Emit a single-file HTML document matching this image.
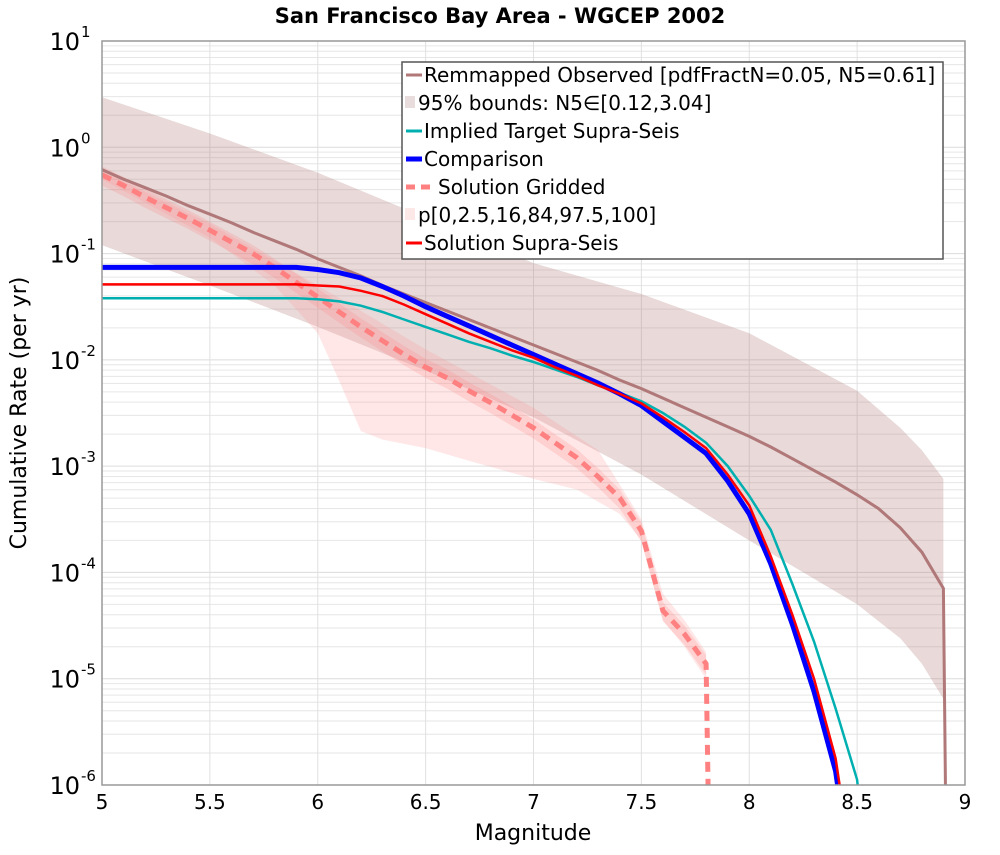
<!DOCTYPE html>
<html><head><meta charset="utf-8"><style>
body{margin:0;background:#fff;font-family:"Liberation Sans","DejaVu Sans",sans-serif}
svg text{font-family:"DejaVu Sans","Liberation Sans",sans-serif}
</style></head><body>
<svg id="chart" width="1000" height="850" xmlns="http://www.w3.org/2000/svg">
<defs><clipPath id="plotclip"><rect x="102" y="41" width="863" height="744"/></clipPath></defs>
<text x="500" y="23" text-anchor="middle" font-size="21" font-weight="bold">San Francisco Bay Area - WGCEP 2002</text>
<g id="grid"></g>
<g id="marks" clip-path="url(#plotclip)"></g>
<rect x="102" y="41" width="863" height="744" fill="none" stroke="#999" stroke-width="1.5"/>
<g id="ticks"></g>
<text x="533" y="840" text-anchor="middle" font-size="22">Magnitude</text>
<text transform="translate(26,413) rotate(-90)" text-anchor="middle" font-size="22">Cumulative Rate (per yr)</text>
<g>
<rect x="402" y="62" width="541" height="197" fill="#fff" stroke="#555" stroke-width="1.5"/>
<line x1="406" y1="75" x2="422" y2="75" stroke="#b07878" stroke-width="3"/>
<text x="424" y="82" font-size="20">Remmapped Observed [pdfFractN=0.05, N5=0.61]</text>
<rect x="405" y="96" width="10" height="12" fill="#e8dcdc"/>
<text x="418" y="110" font-size="20">95% bounds: N5∈[0.12,3.04]</text>
<line x1="406" y1="131" x2="422" y2="131" stroke="#00b0b0" stroke-width="3"/>
<text x="424" y="138" font-size="20">Implied Target Supra-Seis</text>
<line x1="406" y1="159" x2="422" y2="159" stroke="#0000ff" stroke-width="5"/>
<text x="424" y="166" font-size="20">Comparison</text>
<line x1="406" y1="187" x2="436" y2="187" stroke="#ff8080" stroke-width="5" stroke-dasharray="9,6"/>
<text x="438" y="194" font-size="20">Solution Gridded</text>
<rect x="405" y="208" width="10" height="12" fill="#fde8e8"/>
<text x="418" y="222" font-size="20">p[0,2.5,16,84,97.5,100]</text>
<line x1="406" y1="243" x2="422" y2="243" stroke="#ff0000" stroke-width="3"/>
<text x="424" y="250" font-size="20">Solution Supra-Seis</text>
</g>
</svg>
<script>
const obsM=[5,5.1,5.2,5.3,5.4,5.5,5.6,5.7,5.8,5.9,6,6.1,6.2,6.3,6.4,6.5,6.6,6.7,6.8,6.9,7,7.1,7.2,7.3,7.4,7.5,7.6,7.7,7.8,7.9,8,8.1,8.2,8.3,8.4,8.5,8.6,8.7,8.8,8.9,8.91];
const obsLog=[-0.21,-0.30,-0.38,-0.46,-0.55,-0.63,-0.71,-0.80,-0.88,-0.96,-1.05,-1.13,-1.21,-1.30,-1.38,-1.46,-1.54,-1.62,-1.70,-1.78,-1.86,-1.94,-2.02,-2.10,-2.19,-2.27,-2.36,-2.45,-2.54,-2.63,-2.72,-2.82,-2.93,-3.04,-3.15,-3.27,-3.40,-3.58,-3.81,-4.15,-6.2];
const bandM=[5,5.5,6,6.5,7,7.5,8,8.5,8.7,8.8,8.9];
const bandUpper=[0.47,0.13,-0.24,-0.66,-1.09,-1.38,-1.75,-2.29,-2.64,-2.85,-3.12];
const bandLower=[-0.92,-1.30,-1.69,-2.10,-2.54,-3.08,-3.70,-4.30,-4.62,-4.86,-5.19];
const supM=[5,5.9,6,6.1,6.2,6.3,6.4,6.5,6.6,6.7,6.8,6.9,7,7.1,7.2,7.3,7.4,7.5,7.6,7.7,7.8,7.9,8,8.1,8.2,8.3,8.4];
const compLog=[-1.13,-1.13,-1.15,-1.18,-1.23,-1.31,-1.40,-1.50,-1.59,-1.68,-1.77,-1.86,-1.95,-2.04,-2.13,-2.22,-2.32,-2.43,-2.58,-2.73,-2.88,-3.14,-3.45,-3.92,-4.49,-5.12,-5.87];
const supraLog=[-1.29,-1.29,-1.30,-1.31,-1.35,-1.40,-1.48,-1.57,-1.66,-1.75,-1.83,-1.91,-1.98,-2.07,-2.15,-2.24,-2.32,-2.41,-2.54,-2.68,-2.83,-3.08,-3.37,-3.85,-4.40,-5.00,-5.75];
const targM=[5,5.9,6,6.1,6.2,6.3,6.4,6.5,6.6,6.7,6.8,6.9,7,7.1,7.2,7.3,7.4,7.5,7.6,7.7,7.8,7.9,8,8.1,8.2,8.3,8.4,8.5];
const targLog=[-1.42,-1.42,-1.43,-1.45,-1.49,-1.55,-1.62,-1.69,-1.76,-1.83,-1.89,-1.96,-2.02,-2.09,-2.16,-2.24,-2.31,-2.39,-2.50,-2.63,-2.78,-3.00,-3.28,-3.60,-4.11,-4.65,-5.28,-5.95];
const gridM=[5,5.1,5.2,5.3,5.4,5.5,5.6,5.7,5.8,5.9,6,6.1,6.2,6.3,6.4,6.5,6.6,6.7,6.8,6.9,7,7.1,7.2,7.3,7.4,7.5,7.6,7.7,7.8];
const gridLog=[-0.26,-0.36,-0.47,-0.57,-0.67,-0.78,-0.89,-1.00,-1.13,-1.27,-1.41,-1.55,-1.69,-1.82,-1.95,-2.07,-2.17,-2.29,-2.40,-2.52,-2.64,-2.78,-2.92,-3.10,-3.30,-3.61,-4.36,-4.58,-4.86];
const gridMinM=[5,5.5,5.8,6,6.1,6.2,6.3,6.5,6.7,7,7.2,7.4,7.5,7.6,7.7,7.8];
const gridMinLog=[-0.30,-0.85,-1.30,-1.75,-2.2,-2.67,-2.75,-2.83,-2.95,-3.12,-3.22,-3.45,-3.7,-4.45,-4.7,-5.0];
const gridMaxM=[5,5.5,6,6.5,7,7.3,7.5,7.6,7.7,7.8];
const gridMaxLog=[-0.22,-0.72,-1.30,-1.90,-2.45,-2.85,-3.5,-4.2,-4.45,-4.75];
const xTicks=[5,5.5,6,6.5,7,7.5,8,8.5,9];
const yTicks=[1,0,-1,-2,-3,-4,-5,-6];

const NS='http://www.w3.org/2000/svg';
const X0=102,X1=965,Y0=41,Y1=785;
function sx(m){return X0+(m-5)/4*(X1-X0);}
function sy(l){return Y0+(1-l)/7*(Y1-Y0);}
function mk(tag,attrs,parent){const e=document.createElementNS(NS,tag);for(const k in attrs)e.setAttribute(k,attrs[k]);parent.appendChild(e);return e;}
const grid=document.getElementById('grid'),marks=document.getElementById('marks'),ticks=document.getElementById('ticks');
function clampL(l){return Math.max(l,-6.15);}
function pts(ms,ls){return ms.map((m,i)=>sx(m).toFixed(1)+','+sy(clampL(ls[i])).toFixed(1)).join(' ');}
function band(m1,u,m2,lo){return pts(m1,u)+' '+pts(m2.slice().reverse(),lo.slice().reverse());}

for(let d=-6;d<1;d++){for(let k=2;k<10;k++){const l=d+Math.log10(k);
 const g=mk('line',{x1:X0,x2:X1,y1:sy(l),y2:sy(l),stroke:'#e6e6e6','stroke-width':1},grid);
 
 }}
yTicks.forEach(t=>{const g=mk('line',{x1:X0,x2:X1,y1:sy(t),y2:sy(t),stroke:'#dcdcdc','stroke-width':1},grid);
 
 
 const tx=mk('text',{x:80,y:sy(t)+9,'text-anchor':'end','font-size':24},ticks);
 
 
 tx.textContent='10';
 const sp=mk('text',{x:81,y:sy(t)-4,'font-size':15},ticks);
 
 
 sp.textContent=(t<0?'-':'')+Math.abs(t);});
xTicks.forEach(t=>{const g=mk('line',{x1:sx(t),x2:sx(t),y1:Y0,y2:Y1,stroke:'#e0e0e0','stroke-width':1},grid);
 
 
 const tx=mk('text',{x:sx(t),y:809,'text-anchor':'middle','font-size':20},ticks);
 
 
 tx.textContent=String(t);});

let e;
e=mk('polygon',{points:band(bandM,bandUpper,bandM,bandLower),fill:'#b07878','fill-opacity':0.28},marks);


e=mk('polygon',{points:band(gridMaxM,gridMaxLog,gridMinM,gridMinLog),fill:'#ff9090','fill-opacity':0.22},marks);


const innerU=gridLog.map(v=>v+0.08),innerL=gridLog.map(v=>v-0.1);
e=mk('polygon',{points:band(gridM,innerU,gridM,innerL),fill:'#ff8080','fill-opacity':0.22},marks);


e=mk('polyline',{points:pts(obsM,obsLog),fill:'none',stroke:'#b07878','stroke-width':3},marks);


e=mk('polyline',{points:pts(gridM.concat([7.81]),gridLog.concat([-6.2])),fill:'none',stroke:'#ff8080','stroke-width':5,'stroke-dasharray':'10,7'},marks);


e=mk('polyline',{points:pts(targM.concat([8.51]),targLog.concat([-6.2])),fill:'none',stroke:'#00b0b0','stroke-width':2.5},marks);


e=mk('polyline',{points:pts(supM.concat([8.42]),compLog.concat([-6.2])),fill:'none',stroke:'#0000ff','stroke-width':5},marks);


e=mk('polyline',{points:pts(supM.concat([8.43]),supraLog.concat([-6.2])),fill:'none',stroke:'#ff0000','stroke-width':2.5},marks);


</script>
</body></html>
